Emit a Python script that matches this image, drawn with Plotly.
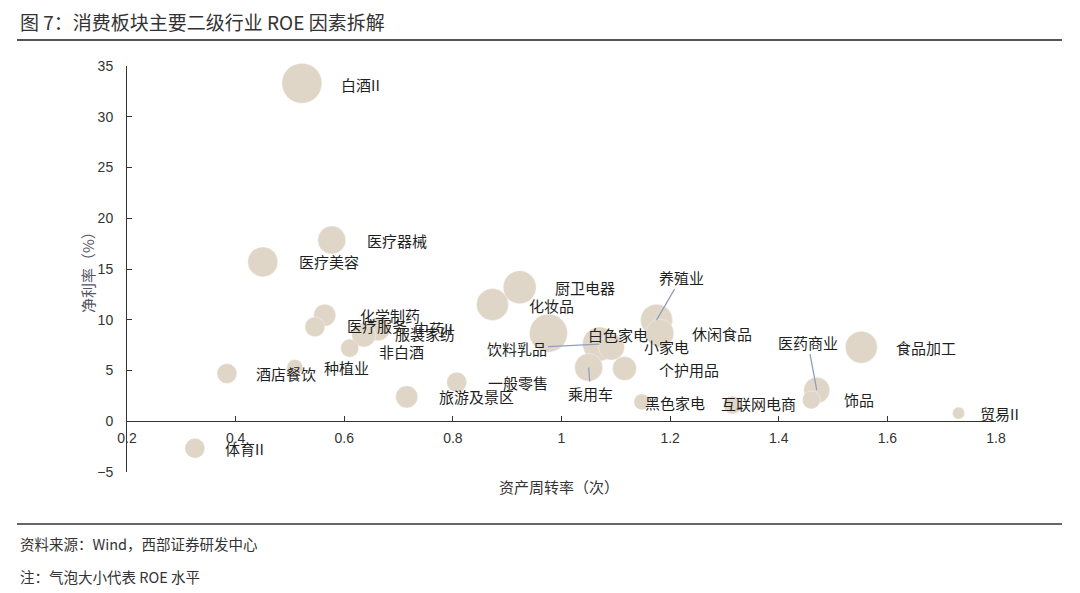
import plotly.graph_objects as go

# ---------------- data ----------------
industries = ["白酒II", "医疗器械", "医疗美容", "化学制药", "医疗服务", "中药II", "服装家纺",
              "非白酒", "种植业", "酒店餐饮", "体育II", "旅游及景区", "一般零售", "化妆品",
              "厨卫电器", "白色家电", "饮料乳品", "小家电", "乘用车", "个护用品", "养殖业",
              "休闲食品", "黑色家电", "互联网电商", "医药商业", "饰品", "食品加工", "贸易II"]
turnover = [0.522, 0.577, 0.450, 0.564, 0.546, 0.662, 0.636,
            0.610, 0.509, 0.384, 0.325, 0.715, 0.807, 0.873,
            0.923, 0.976, 1.070, 1.092, 1.050, 1.116, 1.175,
            1.181, 1.148, 1.315, 1.470, 1.460, 1.552, 1.731]
net_margin = [33.3, 17.85, 15.7, 10.45, 9.3, 9.1, 8.5,
              7.2, 5.3, 4.7, -2.66, 2.4, 3.85, 11.5,
              13.2, 8.68, 7.6, 7.3, 5.3, 5.2, 9.96,
              8.68, 1.9, 1.6, 3.06, 2.1, 7.3, 0.8]
roe = [22.0, 10.8, 12.4, 6.7, 5.5, 7.9, 7.9,
       4.5, 3.5, 5.5, -5.5, 6.7, 5.5, 14.1,
       15.0, 19.9, 15.9, 9.3, 10.8, 7.9, 14.1,
       10.8, 3.5, 4.5, 9.3, 4.5, 14.1, 2.0]

title_text = "图 7：消费板块主要二级行业 ROE 因素拆解"
x_title = "资产周转率（次）"
y_title = "净利率（%）"
source_text = "资料来源：Wind，西部证券研发中心"
note_text = "注：气泡大小代表 ROE 水平"

# ---------------- layout / style settings ----------------
W, H = 1080, 593
ML, MR, MT, MB = 127, 84, 66, 121
PW, PH = W - ML - MR, H - MT - MB
X_RANGE = [0.2, 1.8]
Y_RANGE = [-5, 35]

CJK = "Noto Sans CJK SC"
NUM = "Liberation Sans"
BUBBLE = "rgb(224,214,200)"
TXT = "#1f1f1f"
LABEL_SIZE = 15

# label offsets in pixels (left edge of text relative to bubble centre)
label_shift = {
    "白酒II": (37, 1), "医疗器械": (33, 0), "医疗美容": (34, 0), "化学制药": (33, 0),
    "医疗服务": (30, -1), "中药II": (34, 0), "服装家纺": (29, -1), "非白酒": (27, 3),
    "种植业": (27, 0), "酒店餐饮": (27, 0), "体育II": (28, 0), "旅游及景区": (30, 0),
    "一般零售": (29, 0), "化妆品": (34, 1), "厨卫电器": (33, 0), "白色家电": (38, 1),
    "小家电": (31, -1), "个护用品": (32, 1), "休闲食品": (30, 0), "黑色家电": (1, 1),
    "互联网电商": (-14, -2), "饰品": (31, 0), "食品加工": (33, 0), "贸易II": (19, 0),
}
# labels with leader lines: text centre offset (ax, ay) in pixels
leader_labels = {
    "饮料乳品": (-83, 4),
    "乘用车": (2, 26),
    "养殖业": (25, -43),
    "医药商业": (-9, -48),
}


def px_to_paper_x(px):
    return (px - ML) / PW


def px_to_paper_y(py):
    return (H - MB - py) / PH


max_r = 20.0
sizeref = max(abs(v) for v in roe) / (2 * max_r ** 2)

fig = go.Figure()
fig.add_trace(go.Scatter(
    x=turnover, y=net_margin, mode="markers",
    marker=dict(size=[abs(v) for v in roe], sizemode="area", sizeref=sizeref,
                color=BUBBLE, opacity=1, line=dict(width=0.6, color="rgba(255,255,255,0.6)")),
    text=industries, hoverinfo="text", showlegend=False, cliponaxis=False,
))

annotations = []
for name, xv, yv in zip(industries, turnover, net_margin):
    if name in leader_labels:
        ax, ay = leader_labels[name]
        annotations.append(dict(
            x=xv, y=yv, xref="x", yref="y", text=name, showarrow=True,
            ax=ax, ay=ay, arrowhead=0, arrowwidth=1.3, arrowcolor="#8FA0BC",
            standoff=0, startstandoff=0,
            font=dict(family=CJK, size=LABEL_SIZE, color=TXT)))
    else:
        dx, dy = label_shift.get(name, (30, 0))
        annotations.append(dict(
            x=xv, y=yv, xref="x", yref="y", text=name, showarrow=False,
            xanchor="left", yanchor="middle", xshift=dx, yshift=-dy,
            font=dict(family=CJK, size=LABEL_SIZE, color=TXT)))

# title, axis titles, source
annotations += [
    dict(x=px_to_paper_x(18), y=px_to_paper_y(21), xref="paper", yref="paper",
         text=title_text, showarrow=False, xanchor="left", yanchor="middle",
         font=dict(family=CJK, size=19, color="#333333")),
    dict(x=px_to_paper_x(559), y=px_to_paper_y(487), xref="paper", yref="paper",
         text=x_title, showarrow=False, xanchor="center", yanchor="middle",
         font=dict(family=CJK, size=15, color="#333333")),
    dict(x=px_to_paper_x(87), y=px_to_paper_y(269), xref="paper", yref="paper",
         text=y_title, showarrow=False, xanchor="center", yanchor="middle", textangle=-90,
         font=dict(family=CJK, size=15, color="#555566")),
    dict(x=px_to_paper_x(18), y=px_to_paper_y(543), xref="paper", yref="paper",
         text=source_text, showarrow=False, xanchor="left", yanchor="middle",
         font=dict(family=CJK, size=14.5, color="#333333")),
    dict(x=px_to_paper_x(18), y=px_to_paper_y(576), xref="paper", yref="paper",
         text=note_text, showarrow=False, xanchor="left", yanchor="middle",
         font=dict(family=CJK, size=14.5, color="#333333")),
]

shapes = [
    dict(type="line", xref="paper", yref="paper",
         x0=px_to_paper_x(17), x1=px_to_paper_x(1062),
         y0=px_to_paper_y(40), y1=px_to_paper_y(40),
         line=dict(color="#555555", width=2)),
    dict(type="line", xref="paper", yref="paper",
         x0=px_to_paper_x(17), x1=px_to_paper_x(1062),
         y0=px_to_paper_y(524), y1=px_to_paper_y(524),
         line=dict(color="#666666", width=2)),
]

zero_pos = (0 - Y_RANGE[0]) / (Y_RANGE[1] - Y_RANGE[0])

fig.update_layout(
    width=W, height=H, autosize=False,
    margin=dict(l=ML, r=MR, t=MT, b=MB),
    paper_bgcolor="white", plot_bgcolor="white",
    annotations=annotations, shapes=shapes,
    xaxis=dict(range=X_RANGE, dtick=0.2, tick0=0.2, showgrid=False, zeroline=False,
               showline=True, linecolor="#333333", linewidth=1,
               ticks="inside", ticklen=5, tickcolor="#333333",
               anchor="free", position=zero_pos, ticklabelstandoff=4,
               tickfont=dict(family=NUM, size=14, color="#333333")),
    yaxis=dict(range=Y_RANGE, dtick=5, showgrid=False, zeroline=False,
               showline=True, linecolor="#333333", linewidth=1,
               ticks="inside", ticklen=5, tickcolor="#333333",
               ticklabelstandoff=10,
               tickfont=dict(family=NUM, size=14, color="#333333")),
    hovermode="closest",
)

fig.write_html("out.html")
